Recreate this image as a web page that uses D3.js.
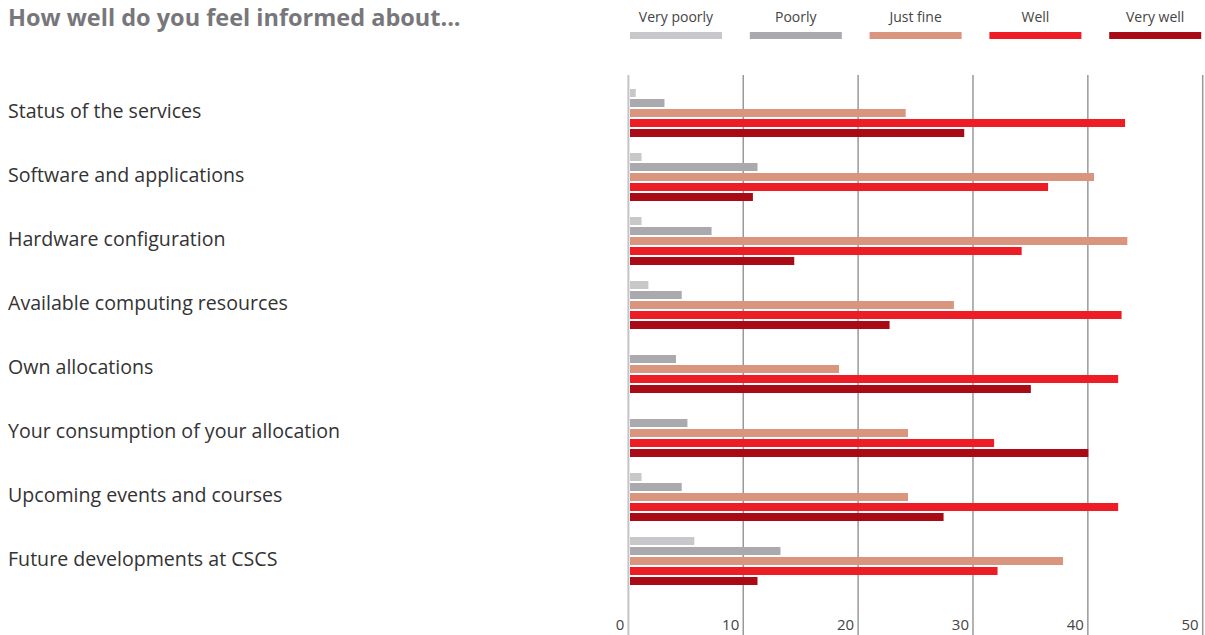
<!DOCTYPE html>
<html lang="en">
<head>
    <meta charset="UTF-8">
    <title>How well do you feel informed about...</title>
    <script src="https://d3js.org/d3.v7.min.js"></script>
    <style>
        body { margin: 0; background: #fff; }
        svg { display: block; font-family: "Open Sans", sans-serif; }
    </style>
</head>
<body>
    <svg width="1205" height="635"></svg>

    <script>
        // Chart data (percent of respondents)
        const categories = [
            "Status of the services",
            "Software and applications",
            "Hardware configuration",
            "Available computing resources",
            "Own allocations",
            "Your consumption of your allocation",
            "Upcoming events and courses",
            "Future developments at CSCS"
        ];
        const seriesNames = ["Very poorly", "Poorly", "Just fine", "Well", "Very well"];
        const seriesColors = ["#c8c8ca", "#a9a9ae", "#d9957e", "#ee1d25", "#a80b16"];

        const veryPoorly = [0.5, 1.0, 1.0, 1.6, 0, 0, 1.0, 5.6];
        const poorly     = [3.0, 11.1, 7.1, 4.5, 4.0, 5.0, 4.5, 13.1];
        const justFine   = [24.0, 40.4, 43.3, 28.2, 18.2, 24.2, 24.2, 37.7];
        const well       = [43.1, 36.4, 34.1, 42.8, 42.5, 31.7, 42.5, 32.0];
        const veryWell   = [29.1, 10.7, 14.3, 22.6, 34.9, 39.9, 27.3, 11.1];

        const xTicks = [0, 10, 20, 30, 40, 50];

        const seriesValues = [veryPoorly, poorly, justFine, well, veryWell];

        const svg = d3.select("svg");

        // scales
        const x = d3.scaleLinear().domain([0, 50]).range([628.4, 1202.7]);
        const y0 = d3.scaleBand().domain(categories).range([80, 592]);
        const y1 = d3.scaleBand().domain(seriesNames).range([8, 58])
            .paddingInner(0.2).paddingOuter(0.1);
        const color = d3.scaleOrdinal().domain(seriesNames).range(seriesColors);

        // title
        svg.append("text")
            .attr("x", 8)
            .attr("y", 26)
            .text("How well do you feel informed about...")
            .style("font-size", "23.5px")
            .style("font-weight", "bold")
            .style("fill", "#77777b");

        // legend
        const legend = svg.append("g").selectAll("g")
            .data(seriesNames)
            .enter().append("g")
            .attr("transform", (d, i) => `translate(${630 + i * 119.8},0)`);
        legend.append("rect")
            .attr("x", 0).attr("y", 32)
            .attr("width", 92).attr("height", 7)
            .attr("fill", d => color(d));
        legend.append("text")
            .attr("x", 46).attr("y", 22)
            .attr("text-anchor", "middle")
            .text(d => d)
            .style("font-size", "14px")
            .style("fill", "#444");

        // grid lines
        svg.append("g").selectAll("line")
            .data(xTicks)
            .enter().append("line")
            .attr("x1", d => x(d)).attr("x2", d => x(d))
            .attr("y1", 75).attr("y2", 635)
            .attr("stroke", d => d === 0 ? "#c4c4c4" : "#999")
            .attr("stroke-width", d => d === 0 ? 2 : 1.5);

        // tick labels
        svg.append("g").selectAll("text")
            .data(xTicks)
            .enter().append("text")
            .attr("x", d => x(d) - 4)
            .attr("y", 630)
            .attr("text-anchor", "end")
            .text(d => d)
            .style("font-size", "15px")
            .style("fill", "#444");

        // category labels
        svg.append("g").selectAll("text")
            .data(categories)
            .enter().append("text")
            .attr("x", 8)
            .attr("y", d => y0(d) + 38)
            .text(d => d)
            .style("font-size", "19.6px")
            .style("fill", "#333");

        // bars
        const groups = svg.append("g").selectAll("g")
            .data(categories)
            .enter().append("g")
            .attr("transform", d => `translate(0,${y0(d)})`);

        groups.selectAll("rect")
            .data((c, ci) => seriesNames.map((s, si) => ({ s: s, v: seriesValues[si][ci] })))
            .enter().append("rect")
            .filter(d => d.v > 0)
            .attr("x", x(0) + 1.6)
            .attr("y", d => y1(d.s))
            .attr("width", d => x(d.v) - x(0))
            .attr("height", y1.bandwidth())
            .attr("fill", d => color(d.s));
    </script>
</body>
</html>
